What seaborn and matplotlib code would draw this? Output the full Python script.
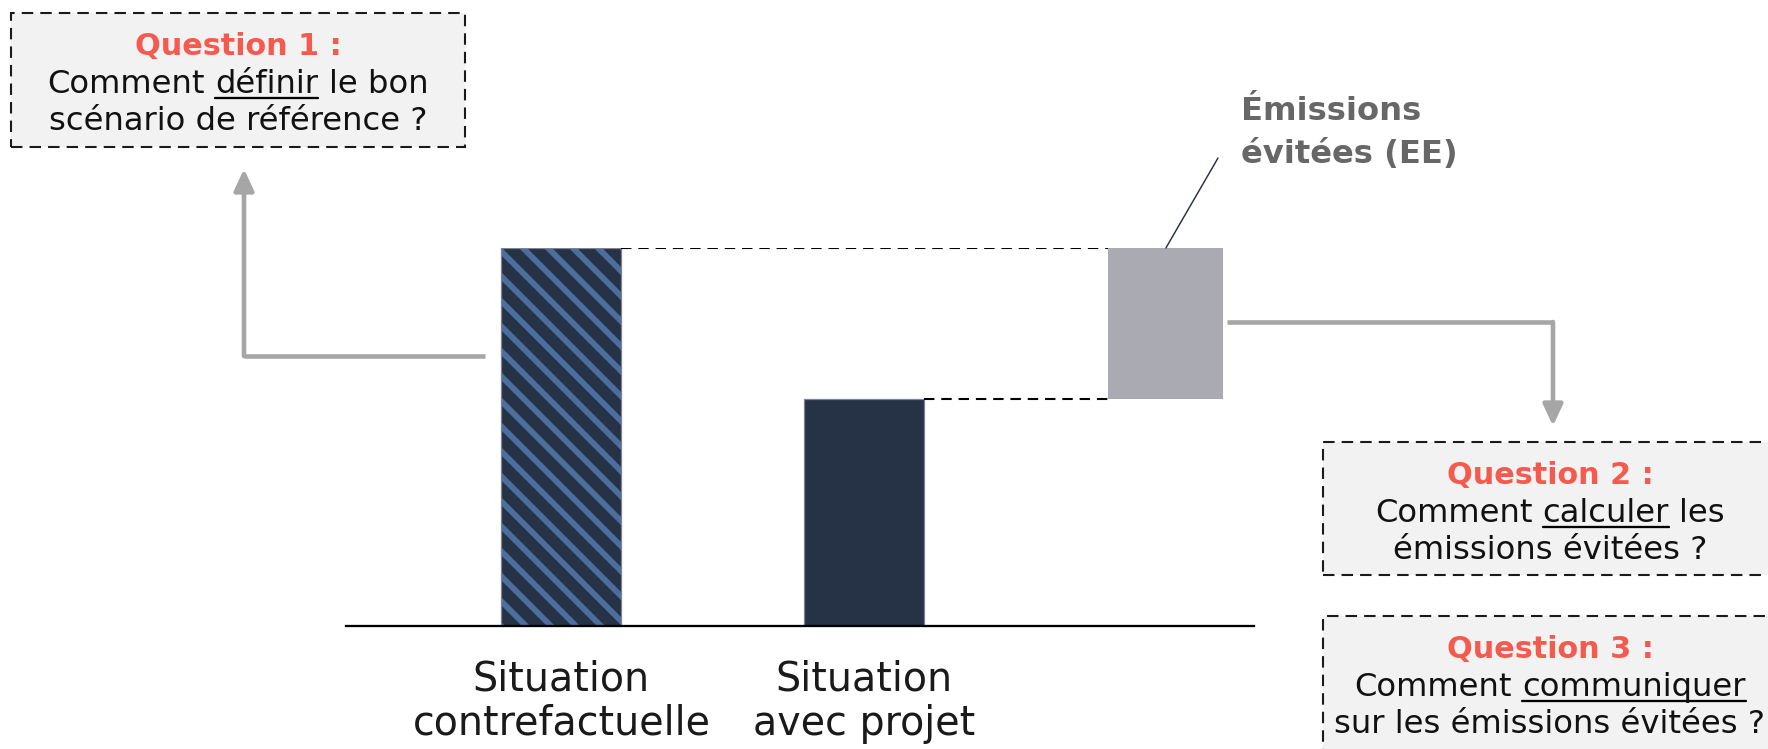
import matplotlib
matplotlib.use("Agg")
import matplotlib.pyplot as plt
import seaborn as sns
from matplotlib.patches import Rectangle
from matplotlib.lines import Line2D

# données
categories = ["Situation\ncontrefactuelle", "Situation\navec projet"]
emissions = [100, 60]          # contrefactuel, avec projet
ee_lignes = ["Émissions", "évitées (EE)"]
questions = [
    ("Question 1 :", ["Comment", "définir", "le bon"], "scénario de référence ?"),
    ("Question 2 :", ["Comment", "calculer", "les"], "émissions évitées ?"),
    ("Question 3 :", ["Comment", "communiquer", ""], "sur les émissions évitées ?"),
]

NAVY = "#263245"
STRIPE = "#4b6e9e"
GRIS_EE = "#a9aab2"
GRIS_FLECHE = "#a6a6a6"
ROUGE = "#f55a4e"
GRIS_TXT = "#676767"

W, H, DPI = 1768, 749, 150

sns.set_style("white")
plt.rcParams["font.family"] = ["DejaVu Sans"]
plt.rcParams["hatch.linewidth"] = 2.8

def fx(x):
    return x / W

def fy(y):
    return 1 - y / H

fig = plt.figure(figsize=(W / DPI, H / DPI), dpi=DPI)
ax = fig.add_axes([fx(346), fy(626), (1254 - 346) / W, (626 - 248) / H])

largeur = 0.397
sns.barplot(x=categories, y=emissions, hue=categories, palette=[NAVY, NAVY],
            width=largeur, saturation=1, legend=False, ax=ax,
            linewidth=0.6, edgecolor="#7d8391")
ax.patches[0].set_edgecolor(STRIPE)
ax.patches[0].set_linewidth(0)
ax.patches[0].set_hatch("\\\\")
# fin contour gris autour de la barre hachurée
p0 = ax.patches[0]
ax.add_patch(Rectangle(p0.get_xy(), p0.get_width(), p0.get_height(),
                       fill=False, edgecolor="#7d8391", lw=0.6))

# barre flottante des émissions évitées
ax.bar(2, emissions[0] - emissions[1], bottom=emissions[1], width=0.38,
       color=GRIS_EE, linewidth=0)
ax.hlines(emissions[0], largeur / 2, 2 - 0.19, colors="black", lw=1.0,
          linestyles=(0, (5, 3.3)))
ax.hlines(emissions[1], 1 + largeur / 2, 2 - 0.19, colors="black", lw=1.0,
          linestyles=(0, (5, 3.3)))

ax.set_xlim(-0.7127, 2.2915)
ax.set_ylim(0, 100)
ax.set_yticks([])
ax.set_ylabel("")
for s in ["top", "right", "left"]:
    ax.spines[s].set_visible(False)
ax.spines["bottom"].set_linewidth(1.1)
ax.spines["bottom"].set_color("black")
ax.tick_params(axis="x", length=0, pad=16, labelsize=19, labelcolor="#1a1a1a")
for lbl in ax.get_xticklabels():
    lbl.set_linespacing(1.15)

# étiquette EE + trait
ax.annotate("", xy=(2, emissions[0]), xytext=(fx(1218), fy(158)),
            textcoords="figure fraction",
            arrowprops=dict(arrowstyle="-", color=NAVY, lw=0.7, shrinkA=0, shrinkB=0))
for ligne, yb in zip(ee_lignes, [120, 163]):
    fig.text(fx(1241), fy(yb), ligne, ha="left", va="baseline", fontsize=15.5,
             fontweight="bold", color=GRIS_TXT)

# flèches coudées
def fleche(pts):
    xs = [fx(p[0]) for p in pts[:-1]]
    ys = [fy(p[1]) for p in pts[:-1]]
    fig.add_artist(Line2D(xs, ys, color=GRIS_FLECHE, lw=2.2,
                          solid_capstyle="butt", solid_joinstyle="miter"))
    ax.annotate("", xy=(fx(pts[-1][0]), fy(pts[-1][1])),
                xycoords="figure fraction",
                xytext=(fx(pts[-2][0]), fy(pts[-2][1])),
                textcoords="figure fraction",
                arrowprops=dict(arrowstyle="-|>,head_length=0.43,head_width=0.2",
                                mutation_scale=20, color=GRIS_FLECHE, lw=2.2,
                                shrinkA=0, shrinkB=0))

fleche([(485, 356), (244, 356), (244, 169)])
fleche([(1227, 322), (1553, 322), (1553, 426)])

# encadrés des questions
rend = fig.canvas.get_renderer()

def largeur_txt(s, **kw):
    t = fig.text(0, 0, s, **kw)
    w = t.get_window_extent(rend).width
    t.remove()
    return w

def ligne_soulignee(cx, yb, morceaux, **kw):
    esp = largeur_txt("a a", **kw) - largeur_txt("aa", **kw)
    morceaux = [m for m in morceaux if m]
    larg = [largeur_txt(m, **kw) for m in morceaux]
    total = sum(larg) + esp * (len(morceaux) - 1)
    x = cx - total / 2
    for i, (m, w) in enumerate(zip(morceaux, larg)):
        fig.text(fx(x), fy(yb), m, ha="left", va="baseline", **kw)
        if i == 1:
            fig.add_artist(Line2D([fx(x), fx(x + w)], [fy(yb + 5), fy(yb + 5)],
                                  color="black", lw=1.1))
        x += w + esp

boites = [(11, 13, 465, 147), (1323, 442, 1800, 575), (1323, 616, 1800, 790)]
centres = [238, 1550, 1550]
for (x0, y0, x1, y1), cx, (titre, morceaux, fin) in zip(boites, centres, questions):
    fig.add_artist(Rectangle((fx(x0), fy(y1)), (x1 - x0) / W, (y1 - y0) / H,
                             facecolor="#f2f2f2", edgecolor="#1a1a1a", lw=1.0,
                             linestyle=(0, (5.5, 3.4))))
    fig.text(fx(cx), fy(y0 + 42), titre, ha="center", va="baseline",
             fontsize=14.5, fontweight="bold", color=ROUGE)
    ligne_soulignee(cx, y0 + 80, morceaux, fontsize=15.5, color="#111111")
    fig.text(fx(cx), fy(y0 + 117), fin, ha="center", va="baseline",
             fontsize=15.5, color="#111111")

fig.savefig("out.png", dpi=DPI)
